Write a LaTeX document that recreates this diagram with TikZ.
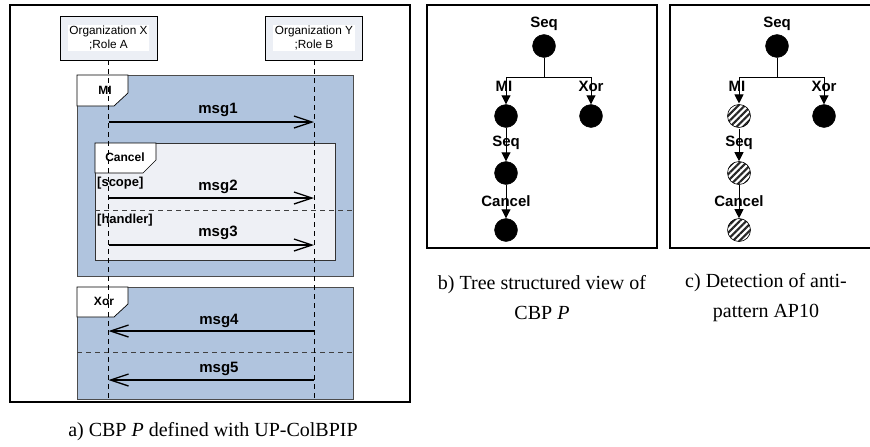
\documentclass[tikz,border=0pt]{standalone}
\usepackage{fontspec}
\setmainfont{Liberation Serif}
\newfontfamily\arialf{Liberation Sans}
\usetikzlibrary{arrows.meta,patterns.meta}
\definecolor{frameblue}{RGB}{176,196,222}
\definecolor{cancelbg}{RGB}{238,240,245}
\definecolor{orgbg}{RGB}{236,239,245}
\tikzset{
  panel/.style={draw=black,line width=1.8pt},
  orgbox/.style={draw=black,line width=0.9pt,fill=orgbg,minimum width=97pt,minimum height=44pt,inner sep=0pt},
  orgtext/.style={fill=white,inner sep=1.5pt,align=center,font=\arialf\fontsize{11.8}{13.5}\selectfont},
  lifeline/.style={draw=black,line width=0.8pt,dash pattern=on 5pt off 4pt},
  sepline/.style={draw=black!75,line width=0.9pt,dash pattern=on 5pt off 4pt},
  miframe/.style={fill=frameblue,draw=black!70,line width=0.7pt},
  cancelframe/.style={fill=cancelbg,draw=black!80,line width=0.7pt},
  tabbox/.style={fill=white,draw=black,line width=0.7pt},
  tablabel/.style={font=\arialf\bfseries\fontsize{12}{14}\selectfont,inner sep=0pt},
  guard/.style={font=\arialf\bfseries\fontsize{13}{15}\selectfont,inner sep=0pt,anchor=west},
  msglabel/.style={font=\arialf\bfseries\fontsize{15}{17}\selectfont,inner sep=0pt},
  msg/.style={draw=black,line width=1.3pt,-{Straight Barb[length=18pt,width=12pt,line width=1.3pt]}},
  tnode/.style={circle,fill=black,draw=black,minimum size=23pt,inner sep=0pt},
  hnode/.style={circle,draw=black,line width=0.6pt,minimum size=23pt,inner sep=0pt,
    preaction={fill=white},pattern={Lines[angle=45,distance=4.6pt,line width=2.1pt]},pattern color=black!85},
  tlabel/.style={font=\arialf\bfseries\fontsize{15}{17}\selectfont,inner sep=0pt},
  tline/.style={draw=black,line width=0.9pt},
  tarrow/.style={draw=black,line width=0.9pt,-{Triangle[length=9pt,width=9pt]}},
  caption/.style={font=\fontsize{20}{30}\selectfont,align=center,inner sep=0pt}
}
\begin{document}
\begin{tikzpicture}[x=1pt,y=-1pt]
\useasboundingbox (0,0) rectangle (870,447);
\fill[white] (0,0) rectangle (870,447);

% ---------------- panel a ----------------
\draw[panel] (10,5) rectangle (410,402);

% MI frame
\draw[miframe] (77,75) rectangle (353,276);
\draw[tabbox] (77,75) -- (128,75) -- (128,93) -- (114,106) -- (77,106) -- cycle;
\node[tablabel] (lmi) at (105,90) {MI};

% Cancel frame
\draw[cancelframe] (95,143) rectangle (335,260);
\draw[tabbox] (95,143) -- (156,143) -- (156,160) -- (143,173) -- (95,173) -- cycle;
\node[tablabel] (lcancel) at (125,157) {Cancel};
\draw[sepline] (95,210) -- (353,210);
\node[guard] (gscope) at (97,183) {[scope]};
\node[guard] (ghandler) at (97,220) {[handler]};

% Xor frame
\draw[miframe] (77,287) rectangle (353,399);
\draw[tabbox] (77,287) -- (128,287) -- (128,304) -- (114,317) -- (77,317) -- cycle;
\node[tablabel] (lxor) at (104,301) {Xor};
\draw[sepline] (77,352) -- (353,352);

% Organizations
\node[orgbox] (orgX) at (108.5,38) {};
\node[orgtext] (orgXt) at (orgX) {Organization X\\;Role A};
\node[orgbox] (orgY) at (314,38) {};
\node[orgtext] (orgYt) at (orgY) {Organization Y\\;Role B};

% lifelines
\coordinate (lend) at (0,399);
\draw[lifeline] (orgX.south) -- (orgX.south |- lend);
\draw[lifeline] (orgY.south) -- (orgY.south |- lend);

% messages
\coordinate (r1) at (0,122);
\coordinate (r2) at (0,198);
\coordinate (r3) at (0,245);
\coordinate (r4) at (0,331);
\coordinate (r5) at (0,380);
\draw[msg] (orgX.south |- r1) -- (orgY.south |- r1);
\draw[msg] (orgX.south |- r2) -- (orgY.south |- r2);
\draw[msg] (orgX.south |- r3) -- (orgY.south |- r3);
\draw[msg] (orgY.south |- r4) -- (orgX.south |- r4);
\draw[msg] (orgY.south |- r5) -- (orgX.south |- r5);
\node[msglabel] (m1) at (218,110) {msg1};
\node[msglabel] (m2) at (218,187) {msg2};
\node[msglabel] (m3) at (218,233) {msg3};
\node[msglabel] (m4) at (219,321) {msg4};
\node[msglabel] (m5) at (219,369) {msg5};

\node[caption] (capa) at (213,432) {a) CBP \textit{P} defined with UP-ColBPIP};

% ---------------- panel b ----------------
\draw[panel] (427,5) rectangle (657,248);
\node[tlabel] (bseq) at (544,24) {Seq};
\node[tnode] (broot) at (544,46) {};
\coordinate (bj) at (544,77);
\node[tnode] (bmi) at (506,116) {};
\node[tnode] (bxor) at (591,116) {};
\node[tnode] (bseq2) at (506,173) {};
\node[tnode] (bcan) at (506,230) {};
\draw[tline] (broot) -- (bj);
\draw[tline] (bmi |- bj) -- (bxor |- bj);
\node[tlabel] (bmil) at (504,86) {MI};
\node[tlabel] (bxorl) at (591,86) {Xor};
\node[tlabel] (bseql) at (506,143) {Seq};
\node[tlabel] (bcanl) at (506,201) {Cancel};
\draw[tarrow] (bmi |- bj) -- (bmi.north);
\draw[tarrow] (bxor |- bj) -- (bxor.north);
\draw[tarrow] (bmi.south) -- (bseq2.north);
\draw[tarrow] (bseq2.south) -- (bcan.north);
\node[caption] (capb) at (542,298) {b) Tree structured view of\\CBP \textit{P}};

% ---------------- panel c ----------------
\draw[panel] (871,5) -- (670,5) -- (670,248) -- (871,248);
\node[tlabel] (cseq) at (777,24) {Seq};
\node[tnode] (croot) at (777,46) {};
\coordinate (cj) at (777,77);
\node[hnode] (cmi) at (739,116) {};
\node[tnode] (cxor) at (824,116) {};
\node[hnode] (cseq2) at (739,173) {};
\node[hnode] (ccan) at (739,230) {};
\draw[tline] (croot) -- (cj);
\draw[tline] (cmi |- cj) -- (cxor |- cj);
\node[tlabel] (cmil) at (737,86) {MI};
\node[tlabel] (cxorl) at (824,86) {Xor};
\node[tlabel] (cseql) at (739,143) {Seq};
\node[tlabel] (ccanl) at (739,201) {Cancel};
\draw[tarrow] (cmi |- cj) -- (cmi.north);
\draw[tarrow] (cxor |- cj) -- (cxor.north);
\draw[tarrow] (cmi.south) -- (cseq2.north);
\draw[tarrow] (cseq2.south) -- (ccan.north);
\node[caption] (capc) at (766,298) {c) Detection of anti-\\pattern AP10};
\end{tikzpicture}
\end{document}
